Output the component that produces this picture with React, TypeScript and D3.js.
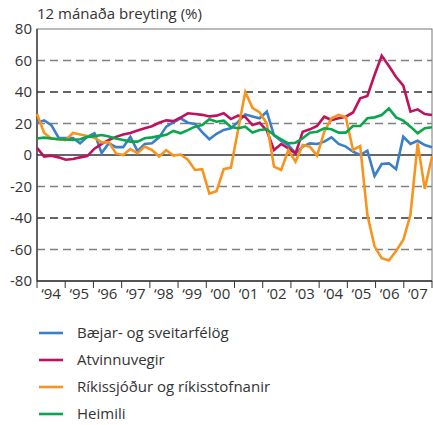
import React, { useRef, useEffect } from "react";
import * as d3 from "d3";

// quarterly observations, 1994 Q1 .. 2007 Q4
const years = ["‘94", "‘95", "‘96", "‘97", "‘98", "‘99", "‘00", "‘01", "‘02", "‘03", "‘04", "‘05", "‘06", "‘07"];
const yTicks = [-80, -60, -40, -20, 0, 20, 40, 60, 80];

const baejar = [
    20.5, 22, 19, 11, 10.8, 10.8, 7.4, 11.5, 13.8, 1.2, 7.5, 5, 5, 11.5, 2.5, 7, 7.4, 11.2, 18, 20.8,
    23.3, 20.5, 19.7, 14.5, 10, 13.5, 15.9, 17, 21, 25.8, 24.5, 23.3, 27.5, 12.5, 9, 6.3, 1, 5.3, 7.4, 7,
    8.5, 11.2, 7, 5.3, 2.1, 0, 2.7, -13.3, -5.7, -5.3, -9, 11.6, 7, 9, 6.3, 4.9,
];
const atvinnuvegir = [
    4.5, -1, -0.5, -1.5, -3, -2.5, -1.5, -0.7, 4, 7, 9.5, 11.5, 13, 14, 15.5, 17, 18.3, 20.5, 22, 21.5,
    23.8, 26.5, 26, 25.5, 24.5, 25, 26.5, 22.8, 25, 24.2, 19, 20.5, 15.5, 3.2, 7, 4.2, 1, 14.8, 16.3, 18.5,
    24.3, 22.2, 23.3, 24.3, 27, 36, 37.5, 50.8, 63, 56.5, 49.5, 44, 27.5, 29, 26, 25.4,
];
const rikissjodur = [
    26, 14, 10.5, 10, 9.5, 14, 13, 12, 11, 8, 8.2, 1, 0, 3.8, 1.2, 5.3, 3.2, -1, 3, -0.4,
    0.3, -3, -9.5, -9, -24.5, -23, -9, -8, 16, 40, 30, 27, 20, -7.4, -9.5, 3.2, -4.2, 6.3, 5.3, -0.4,
    14.8, 23.3, 25.4, 24, 3.2, 5.7, -38, -58, -65.5, -67, -61, -54, -38, 7.4, -21.5, -1,
];
const heimili = [
    10.5, 11, 10.5, 10, 9.8, 9.5, 10, 11.5, 12, 12.7, 11.8, 10.5, 9.5, 8.5, 8.5, 10.6, 11.2, 12, 12.8, 15.3,
    13.8, 15.8, 18, 19, 22.7, 21.1, 21.8, 17.8, 17, 18, 14.3, 15.9, 16.3, 12.7, 10, 7.4, 7.8, 10.6, 14.2, 14.8,
    17, 16.3, 14.2, 14.2, 18.4, 18.4, 23.3, 23.9, 25.4, 29.6, 23.9, 21.8, 18, 13.8, 17, 17.6,
];

const series = [
    { name: "Bæjar- og sveitarfélög", color: "#3a7fc8", values: baejar },
    { name: "Atvinnuvegir", color: "#c0115e", values: atvinnuvegir },
    { name: "Ríkissjóður og ríkisstofnanir", color: "#f7941e", values: rikissjodur },
    { name: "Heimili", color: "#0aa64e", values: heimili },
];

const W = 433;
const H = 425;
const margin = { top: 29, right: 1, bottom: 144, left: 37 };
const FONT = "'Open Sans', sans-serif";
const FS = 15;

const App: React.FC = () => {
    const svgRef = useRef<SVGSVGElement | null>(null);

    useEffect(() => {
        if (!svgRef.current) return;
        const svg = d3.select(svgRef.current);
        svg.selectAll("*").remove();

        const x0 = margin.left;
        const x1 = W - margin.right;
        const y0 = margin.top;
        const y1 = H - margin.bottom;

        const y = d3.scaleLinear().domain([-80, 80]).range([y1, y0]);
        const xi = d3.scaleLinear().domain([0, baejar.length - 1]).range([x0, x1]);
        const xYear = d3.scaleLinear().domain([0, years.length]).range([x0, x1]);

        // frame
        svg.append("rect")
            .attr("x", x0).attr("y", y0)
            .attr("width", x1 - x0).attr("height", y1 - y0)
            .attr("fill", "none").attr("stroke", "#777").attr("stroke-width", 1);

        // dashed gridlines
        svg.append("g")
            .selectAll("line")
            .data(yTicks.filter((t) => t !== 0 && Math.abs(t) !== 80))
            .enter()
            .append("line")
            .attr("x1", x0).attr("x2", x1)
            .attr("y1", (d) => y(d)).attr("y2", (d) => y(d))
            .attr("stroke", (d) => (Math.abs(d) === 40 ? "#333" : "#808080"))
            .attr("stroke-width", 1.3)
            .attr("stroke-dasharray", "8,5");

        // zero line
        svg.append("line")
            .attr("x1", x0).attr("x2", x1)
            .attr("y1", y(0)).attr("y2", y(0))
            .attr("stroke", "#333").attr("stroke-width", 1.3);

        // y axis
        svg.append("line")
            .attr("x1", x0).attr("x2", x0).attr("y1", y0).attr("y2", y1)
            .attr("stroke", "#333").attr("stroke-width", 1.3);
        svg.append("g")
            .selectAll("text")
            .data(yTicks)
            .enter()
            .append("text")
            .attr("x", x0 - 5)
            .attr("y", (d) => y(d))
            .attr("dy", "0.36em")
            .attr("text-anchor", "end")
            .attr("font-family", FONT)
            .attr("font-size", FS)
            .attr("fill", "#333")
            .text((d) => d);

        // x axis
        svg.append("line")
            .attr("x1", x0).attr("x2", x1).attr("y1", y1).attr("y2", y1)
            .attr("stroke", "#333").attr("stroke-width", 1.3);
        svg.append("g")
            .selectAll("line")
            .data(d3.range(years.length + 1))
            .enter()
            .append("line")
            .attr("x1", (d) => xYear(d)).attr("x2", (d) => xYear(d))
            .attr("y1", y1).attr("y2", y1 + 7)
            .attr("stroke", "#333").attr("stroke-width", 1);
        svg.append("g")
            .selectAll("text")
            .data(years)
            .enter()
            .append("text")
            .attr("x", (d, i) => xYear(i + 0.5))
            .attr("y", y1 + 18)
            .attr("text-anchor", "middle")
            .attr("font-family", FONT)
            .attr("font-size", FS)
            .attr("fill", "#333")
            .text((d) => d);

        // title
        svg.append("text")
            .attr("x", x0)
            .attr("y", 19)
            .attr("font-family", FONT)
            .attr("font-size", FS)
            .attr("fill", "#333")
            .text("12 mánaða breyting (%)");

        // lines
        const line = d3
            .line<number>()
            .x((d, i) => xi(i))
            .y((d) => y(d));

        svg.append("g")
            .selectAll("path")
            .data(series)
            .enter()
            .append("path")
            .attr("d", (d) => line(d.values))
            .attr("fill", "none")
            .attr("stroke", (d) => d.color)
            .attr("stroke-width", 2.6)
            .attr("stroke-linejoin", "miter");

        // legend
        const legend = svg
            .append("g")
            .selectAll("g")
            .data(series)
            .enter()
            .append("g")
            .attr("transform", (d, i) => `translate(39,${333 + i * 27})`);
        legend.append("line")
            .attr("x1", 0).attr("x2", 24)
            .attr("stroke", (d) => d.color)
            .attr("stroke-width", 2.6);
        legend.append("text")
            .attr("x", 38)
            .attr("dy", "0.35em")
            .attr("font-family", FONT)
            .attr("font-size", FS)
            .attr("fill", "#333")
            .text((d) => d.name);
    }, []);

    return (
        <svg
            ref={svgRef}
            width={W}
            height={H}
            style={{ position: "absolute", left: 0, top: 0, background: "#fff" }}
        />
    );
};

export default App;
